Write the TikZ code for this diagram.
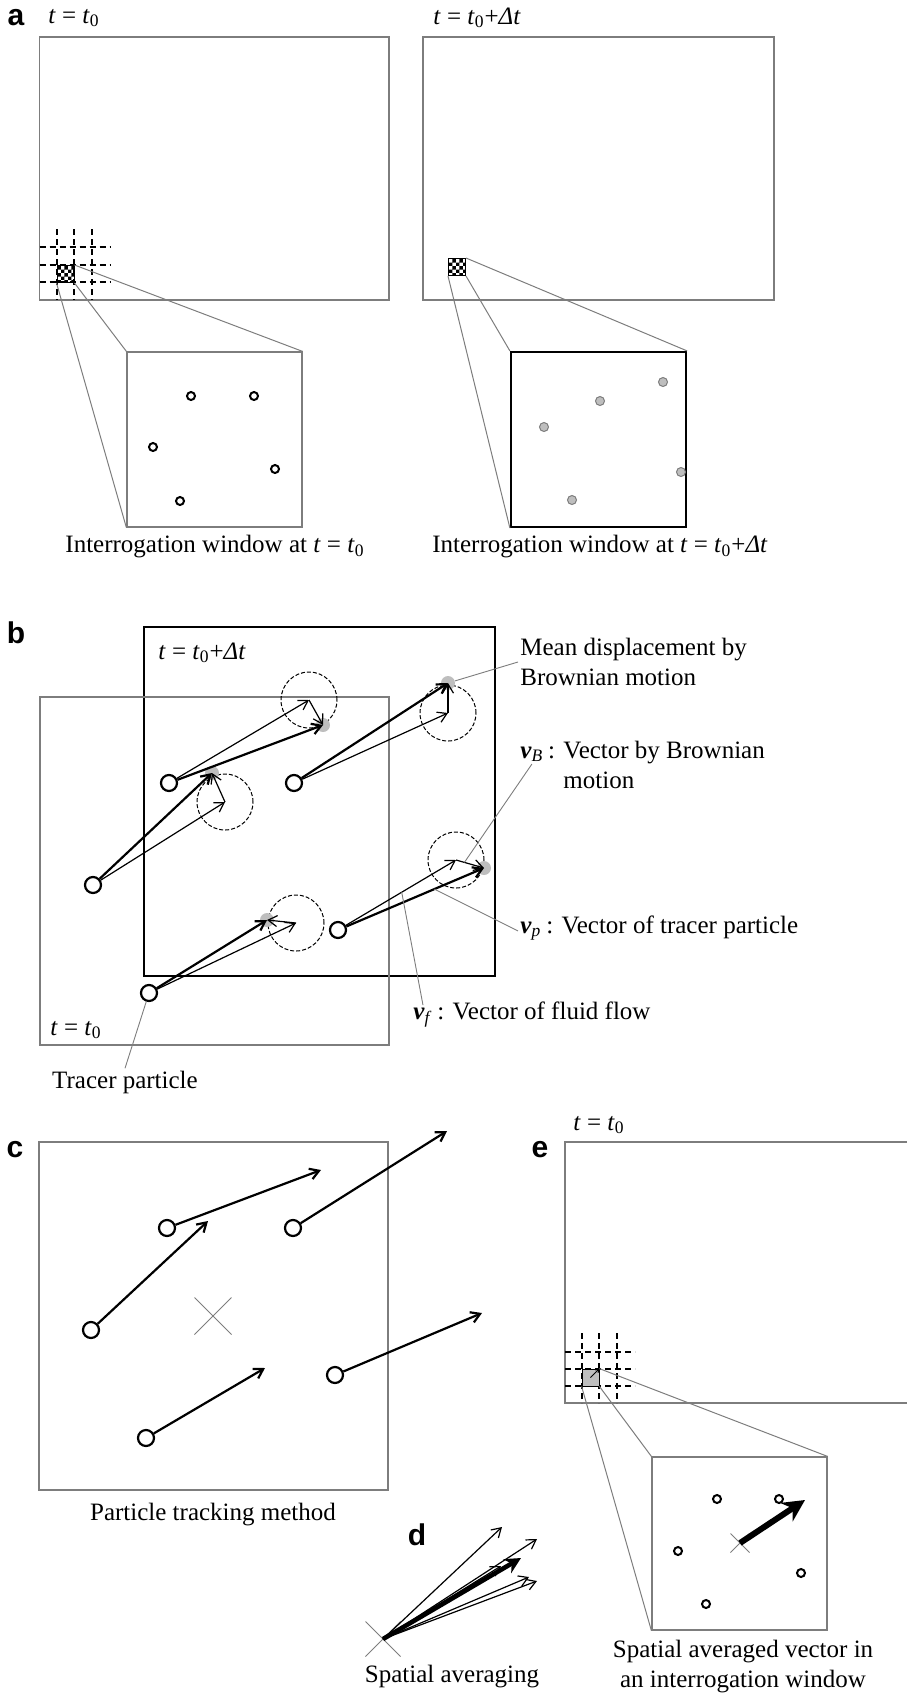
\documentclass[tikz,border=0pt]{standalone}
\usepackage{fontspec}
\setmainfont{Liberation Serif}
\setsansfont{Liberation Sans}
\usetikzlibrary{arrows.meta,positioning,patterns,shapes.misc,calc}
\usepackage{xcolor}
\definecolor{framegray}{RGB}{125,125,125}
\definecolor{dotgray}{RGB}{190,190,190}
\pgfdeclarepatternformonly{finechecker}{\pgfpointorigin}{\pgfqpoint{3.4pt}{3.4pt}}{\pgfqpoint{3.4pt}{3.4pt}}{
  \pgfpathrectangle{\pgfpointorigin}{\pgfqpoint{1.7pt}{1.7pt}}
  \pgfpathrectangle{\pgfqpoint{1.7pt}{1.7pt}}{\pgfqpoint{1.7pt}{1.7pt}}
  \pgfusepath{fill}}

\begin{document}
\begin{tikzpicture}[x=0.5pt, y=-0.5pt, font=\fontsize{12.5}{15}\selectfont,
    panel/.style={font=\fontsize{15}{17}\selectfont\sffamily\bfseries, inner sep=1pt},
    lbl/.style={inner sep=1pt},
    frame/.style={draw=framegray, line width=0.6pt},
    gridline/.style={dash pattern=on 3pt off 2pt, line width=0.8pt},
    zoomline/.style={draw=framegray, line width=0.5pt},
    leader/.style={draw=framegray, line width=0.45pt},
    window/.style={draw=framegray, line width=0.6pt, minimum size=87.5pt, inner sep=0pt},
    checker/.style={draw, line width=0.5pt, pattern=finechecker, minimum size=8.5pt, inner sep=0pt},
    ring/.style={circle, draw, line width=1pt, minimum size=4pt, inner sep=0pt},
    grain/.style={circle, draw=framegray, fill=dotgray, line width=0.5pt, minimum size=4.5pt, inner sep=0pt},
    tracer/.style={circle, draw, line width=1.1pt, minimum size=8pt, inner sep=0pt},
    brown/.style={circle, draw, dash pattern=on 2pt off 1pt, line width=0.5pt, minimum size=28pt, inner sep=0pt},
    shade/.style={circle, fill=dotgray, minimum size=7pt, inner sep=0pt},
    cross/.style={cross out, draw=framegray, line width=0.5pt, inner sep=0pt},
    flow/.style={-{Straight Barb[length=4.5pt,width=5.5pt]}, line width=0.6pt},
    track/.style={-{Straight Barb[length=4.5pt,width=5.5pt]}, line width=1.1pt},
    meanvec/.style={-{Stealth[length=8pt,width=8pt]}, line width=2.3pt},
    bigvec/.style={-{Stealth[length=11pt,width=11pt]}, line width=3pt}]
    \useasboundingbox (0,0) rectangle (907,1694);

    % Panel a: image at t0
    \node[panel] (lbla) at (16,18) {a};
    \node[lbl, anchor=west] (ta1) at (46,18) {\textit{t} = \textit{t}\textsubscript{0}};
    \draw[frame] (39.5,37) rectangle (389,300);
    \foreach \gx in {57,74,92} \draw[gridline] (\gx,229) -- (\gx,300);
    \foreach \gy in {247,265,282} \draw[gridline] (39.5,\gy) -- (110,\gy);
    \node[checker] (sq1) at (65.5,274) {};
    \node[window] (win1) at (214.5,439.5) {};
    \draw[zoomline] (sq1.south west) -- (win1.south west);
    \draw[zoomline] (sq1.south east) -- (win1.north west);
    \draw[zoomline] (sq1.north east) -- (win1.north east);
    \node[ring] (r1) at (191,396) {};
    \node[ring] (r2) at (254,396) {};
    \node[ring] (r3) at (153,447) {};
    \node[ring] (r4) at (275,469) {};
    \node[ring] (r5) at (180,501) {};
    \node[lbl] (cap1) at (215,547) {Interrogation window at \textit{t} = \textit{t}\textsubscript{0}};

    % Panel a: image at t0+dt
    \node[lbl, anchor=west] (ta2) at (431,18) {\textit{t} = \textit{t}\textsubscript{0}+\textit{Δt}};
    \draw[frame] (423,37) rectangle (774,300);
    \node[checker] (sq2) at (457,267) {};
    \node[window, draw=black, line width=1.1pt] (win2) at (598.5,439.5) {};
    \draw[zoomline] (sq2.south west) -- (win2.south west);
    \draw[zoomline] (sq2.south east) -- (win2.north west);
    \draw[zoomline] (sq2.north east) -- (win2.north east);
    \node[grain] (s1) at (663,382) {};
    \node[grain] (s2) at (600,401) {};
    \node[grain] (s3) at (544,427) {};
    \node[grain] (s4) at (681,472) {};
    \node[grain] (s5) at (572,500) {};
    \node[lbl] (cap2) at (600,547) {Interrogation window at \textit{t} = \textit{t}\textsubscript{0}+\textit{Δt}};

    % Panel b: tracer particles and Brownian motion
    \node[panel] (lblb) at (16,633) {b};
    \draw[line width=1.1pt] (144,627) rectangle (495,976);
    \draw[frame] (40,697) rectangle (389,1045);
    \node[lbl, anchor=west] (tb2) at (156,653) {\textit{t} = \textit{t}\textsubscript{0}+\textit{Δt}};
    \node[lbl, anchor=west] (tb1) at (48,1030) {\textit{t} = \textit{t}\textsubscript{0}};
    \node[brown] (c1) at (309,700) {};
    \node[brown] (c2) at (225,802) {};
    \node[brown] (c3) at (448,713) {};
    \node[brown] (c4) at (456,860) {};
    \node[brown] (c5) at (296,923) {};
    \node[shade] (g1) at (323,725) {};
    \node[shade] (g2) at (212,773) {};
    \node[shade] (g3) at (448,683) {};
    \node[shade] (g4) at (484,868) {};
    \node[shade] (g5) at (267,920) {};
    \node[tracer] (p1) at (169,783) {};
    \node[tracer] (p2) at (93,885) {};
    \node[tracer] (p3) at (294,783) {};
    \node[tracer] (p4) at (149,993) {};
    \node[tracer] (p5) at (338,930) {};
    \draw[flow] (p1) -- (c1.center);
    \draw[track] (p1) -- (g1.center);
    \draw[flow] (c1.center) -- (g1.center);
    \draw[flow] (p2) -- (c2.center);
    \draw[track] (p2) -- (g2.center);
    \draw[flow] (c2.center) -- (g2.center);
    \draw[flow] (p3) -- (c3.center);
    \draw[track] (p3) -- (g3.center);
    \draw[flow] (c3.center) -- (g3.center);
    \draw[flow] (p5) -- (c4.center);
    \draw[track] (p5) -- (g4.center);
    \draw[flow] (c4.center) -- (g4.center);
    \draw[flow] (p4) -- (c5.center);
    \draw[track] (p4) -- (g5.center);
    \draw[flow] (c5.center) -- (g5.center);
    % labels of panel b
    \node[lbl, anchor=west, align=left] (mean) at (518,662) {Mean displacement by\\Brownian motion};
    \draw[leader] (mean.west) -- (g3);
    \node[lbl, anchor=base west] (symb) at (518,758) {\textbf{\textit{v}}\textsubscript{\textit{B}}};
    \node[lbl, anchor=base west] (descb) at (symb.base east) { : \begin{tabular}[t]{@{}l@{}}Vector by Brownian\\motion\end{tabular}};
    \coordinate (vbpt) at ($(c4.center)!0.3!(g4.center)$);
    \draw[leader] (symb.south) -- (vbpt);
    \node[lbl, anchor=base west] (symp) at (518,933) {\textbf{\textit{v}}\textsubscript{\textit{p}}};
    \node[lbl, anchor=base west] (descp) at (symp.base east) { : Vector of tracer particle};
    \coordinate (vppt) at ($(p5)!0.66!(g4)$);
    \draw[leader] (symp.west) -- (vppt);
    \node[lbl, anchor=base west] (symf) at (411,1019) {\textbf{\textit{v}}\textsubscript{\textit{f}}};
    \node[lbl, anchor=base west] (descf) at (symf.base east) {: Vector of fluid flow};
    \coordinate (vfpt) at ($(p5)!0.54!(c4)$);
    \draw[leader] (symf.north) -- (vfpt);
    \node[lbl] (tracerlbl) at (125,1082) {Tracer particle};
    \draw[leader] (p4) -- (tracerlbl.north);

    % Panel c: particle tracking
    \node[panel] (lblc) at (15,1150) {c};
    \draw[frame] (39,1142) rectangle (388,1490);
    \node[cross, minimum size=18pt] (xc) at (213,1316) {};
    \node[tracer] (q1) at (167,1228) {};
    \node[tracer] (q2) at (293,1228) {};
    \node[tracer] (q3) at (91,1330) {};
    \node[tracer] (q4) at (335,1375) {};
    \node[tracer] (q5) at (146,1438) {};
    \coordinate (e1) at (321,1170);
    \coordinate (e2) at (447,1131);
    \coordinate (e3) at (208,1221);
    \coordinate (e4) at (482,1313);
    \coordinate (e5) at (265,1368);
    \draw[track] (q1) -- (e1);
    \draw[track] (q2) -- (e2);
    \draw[track] (q3) -- (e3);
    \draw[track] (q4) -- (e4);
    \draw[track] (q5) -- (e5);
    \node[lbl] (cap3) at (213,1515) {Particle tracking method};

    % Panel d: spatial averaging
    \node[panel] (lbld) at (417,1535) {d};
    \node[cross, minimum size=17pt] (xd) at (383,1639) {};
    \coordinate (d1) at ($(xd.center)+(154,-58)$);
    \coordinate (d2) at ($(xd.center)+(119,-112)$);
    \coordinate (d3) at ($(xd.center)+(154,-100)$);
    \coordinate (d4) at ($(xd.center)+(146,-62)$);
    \coordinate (d5) at ($(xd.center)+(118,-73)$);
    \coordinate (dm) at ($(xd.center)+(138,-81)$);
    \draw[flow] (xd.center) -- (d1);
    \draw[flow] (xd.center) -- (d2);
    \draw[flow] (xd.center) -- (d3);
    \draw[flow] (xd.center) -- (d4);
    \draw[flow] (xd.center) -- (d5);
    \draw[meanvec] (xd.center) -- (dm);
    \node[lbl] (cap4) at (452,1677) {Spatial averaging};

    % Panel e: averaged vector in the window
    \node[panel] (lble) at (540,1150) {e};
    \node[lbl, anchor=west] (te) at (571,1125) {\textit{t} = \textit{t}\textsubscript{0}};
    \draw[frame] (907,1142) -- (565,1142) -- (565,1403) -- (907,1403);
    \foreach \gx in {582,599,617} \draw[gridline] (\gx,1333) -- (\gx,1403);
    \foreach \gy in {1352,1369,1386} \draw[gridline] (565,\gy) -- (635,\gy);
    \node[draw, fill=dotgray, line width=0.4pt, minimum size=8.5pt, inner sep=0pt] (sq3) at (590.5,1377.5) {};
    \draw[-{Straight Barb[length=1.5pt,width=2pt]}, line width=0.5pt] (sq3.center) -- (sq3.north east);
    \node[window, minimum height=86.5pt] (win3) at (739.5,1543.5) {};
    \draw[zoomline] (sq3.south west) -- (win3.south west);
    \draw[zoomline] (sq3.south east) -- (win3.north west);
    \draw[zoomline] (sq3.north east) -- (win3.north east);
    \node[ring] (u1) at (717,1499) {};
    \node[ring] (u2) at (779,1499) {};
    \node[ring] (u3) at (678,1551) {};
    \node[ring] (u4) at (801,1573) {};
    \node[ring] (u5) at (706,1604) {};
    \node[cross, minimum size=9pt] (xe) at (740,1543) {};
    \coordinate (ee) at (805,1500);
    \draw[bigvec] (xe.center) -- (ee);
    \node[lbl, align=center] (cap5) at (743,1667) {Spatial averaged vector in\\an interrogation window};
\end{tikzpicture}
\end{document}
